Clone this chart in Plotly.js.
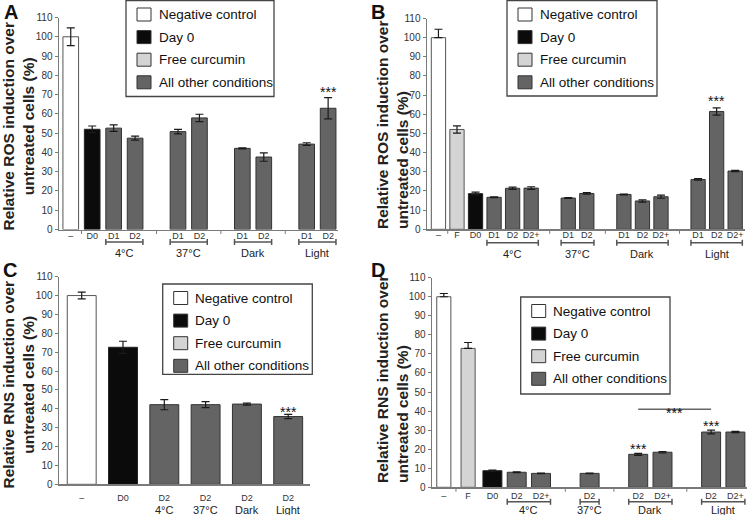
<!DOCTYPE html>
<html><head><meta charset="utf-8">
<script src="https://cdn.plot.ly/plotly-3.0.1.min.js"></script>
<style>html,body{margin:0;padding:0;background:#fff}#chart{width:748px;height:515px}</style>
</head><body><div id="chart"></div>
<script>
// ---------- DATA ----------
const legendKinds  = ['neg', 'day0', 'free', 'other'];
const legendLabels = ['Negative control', 'Day 0', 'Free curcumin', 'All other conditions'];

// Panel A – ROS
const labelsA = ['–', 'D0', 'D1', 'D2', 'D1', 'D2', 'D1', 'D2', 'D1', 'D2'];
const groupA  = ['', '', '4°C', '4°C', '37°C', '37°C', 'Dark', 'Dark', 'Light', 'Light'];
const kindA   = ['neg', 'day0', 'other', 'other', 'other', 'other', 'other', 'other', 'other', 'other'];
const rosA    = [100, 52.0, 52.6, 47.4, 50.8, 57.9, 42.1, 37.6, 44.3, 62.9];
const errA    = [4.6, 1.7, 1.7, 1.0, 1.2, 1.9, 0.3, 2.2, 0.7, 5.5];
const starsA  = ['', '', '', '', '', '', '', '', '', '***'];

// Panel B – ROS
const labelsB = ['–', 'F', 'D0', 'D1', 'D2', 'D2+', 'D1', 'D2', 'D1', 'D2', 'D2+', 'D1', 'D2', 'D2+'];
const groupB  = ['', '', '', '4°C', '4°C', '4°C', '37°C', '37°C', 'Dark', 'Dark', 'Dark', 'Light', 'Light', 'Light'];
const kindB   = ['neg', 'free', 'day0', 'other', 'other', 'other', 'other', 'other', 'other', 'other', 'other', 'other', 'other', 'other'];
const rosB    = [100, 52.1, 18.6, 16.7, 21.4, 21.5, 16.3, 18.7, 18.2, 14.8, 17.0, 26.0, 61.5, 30.4];
const errB    = [4.4, 1.9, 0.8, 0.2, 0.6, 0.7, 0.2, 0.4, 0.2, 0.6, 0.8, 0.4, 1.9, 0.3];
const errLowB = [0, 1.9, 0.8, 0.2, 0.6, 0.7, 0.2, 0.4, 0.2, 0.6, 0.8, 0.4, 1.9, 0.3];
const starsB  = ['', '', '', '', '', '', '', '', '', '', '', '', '***', ''];

// Panel C – RNS
const labelsC = ['–', 'D0', 'D2', 'D2', 'D2', 'D2'];
const groupC  = ['', '', '4°C', '37°C', 'Dark', 'Light'];
const kindC   = ['neg', 'day0', 'other', 'other', 'other', 'other'];
const rnsC    = [100, 72.6, 42.2, 42.2, 42.5, 35.9];
const errC    = [1.8, 3.2, 2.7, 1.6, 0.5, 1.1];
const starsC  = ['', '', '', '', '', '***'];

// Panel D – RNS
const labelsD = ['–', 'F', 'D0', 'D2', 'D2+', 'D2', 'D2', 'D2+', 'D2', 'D2+'];
const groupD  = ['', '', '', '4°C', '4°C', '37°C', 'Dark', 'Dark', 'Light', 'Light'];
const kindD   = ['neg', 'free', 'day0', 'other', 'other', 'other', 'other', 'other', 'other', 'other'];
const rnsD    = [100, 72.9, 8.7, 7.9, 7.3, 7.3, 17.3, 18.4, 29.0, 29.0];
const errD    = [1.7, 3.1, 0.3, 0.2, 0.1, 0.1, 0.5, 0.4, 1.0, 0.3];
const errLowD = [0, 0, 0.3, 0.2, 0.1, 0.1, 0.5, 0.4, 1.0, 0.3];
const starsD  = ['', '', '', '', '', '', '***', '', '***', ''];
const sigPairD = [6, 8];   // Dark D2 vs Light D2
const sigTextD = '***';

// ---------- STYLE / LAYOUT ----------
const W = 748, H = 515;
const FONT = 'Liberation Sans, Arial, Helvetica, sans-serif';
const AX = '#7a7a7a';
const fillColors = {neg: '#ffffff', day0: '#0b0b0b', free: '#d4d4d4', other: '#646464'};
const edgeColors = {neg: '#555555', day0: '#222222', free: '#555555', other: '#333333'};

const panels = [
  {letter: 'A', labels: labelsA, groups: groupA, kinds: kindA, vals: rosA, up: errA, down: errA, stars: starsA,
   slots: [0, 1, 2, 3, 5, 6, 8, 9, 11, 12], width: 0.73, xpx: [59, 338], ypx: [17.5, 229.5], xr: [-0.548, 12.46],
   tickLen: 0, standoff: -3, brackets: true, minorTicks: true, bracketDy: 12.5, groupDy: 23.8, starShift: -4,
   legend: [126, 0.5, 148, 96], titleXY: [17.5, 127], titleAlign: 'center', letterXY: [11, 11.5],
   title: 'Relative ROS induction over<br>untreated cells (%)'},
  {letter: 'B', labels: labelsB, groups: groupB, kinds: kindB, vals: rosB, up: errB, down: errLowB, stars: starsB,
   slots: [0, 1, 2, 3, 4, 5, 7, 8, 10, 11, 12, 14, 15, 16], width: 0.77, xpx: [427, 745], ypx: [18.5, 229.3], xr: [-0.617, 16.53],
   tickLen: 0, standoff: -4, brackets: true, minorTicks: true, bracketDy: 13.5, groupDy: 24.5, starShift: -3,
   legend: [507, 0.5, 150, 95.5], titleXY: [392, 125], titleAlign: 'left', letterXY: [378, 11.5],
   title: 'Relative ROS induction over<br>untreated cells (%)'},
  {letter: 'C', labels: labelsC, groups: groupC, kinds: kindC, vals: rnsC, up: errC, down: errC, stars: starsC,
   slots: [0, 1, 2, 3, 4, 5], width: 0.7, xpx: [59, 310], ypx: [276.7, 484.3], xr: [-0.55, 5.528],
   tickLen: 4, standoff: 0, brackets: false, minorTicks: false, bracketDy: 0, groupDy: 25.7, starShift: -8,
   legend: [162.7, 284, 149.6, 90.3], titleXY: [17.5, 385], titleAlign: 'center', letterXY: [10, 270],
   title: 'Relative RNS induction over<br>untreated cells (%)'},
  {letter: 'D', labels: labelsD, groups: groupD, kinds: kindD, vals: rnsD, up: errD, down: errLowD, stars: starsD,
   slots: [0, 1, 2, 3, 4, 6, 8, 9, 11, 12], width: [0.58, 0.58, 0.78, 0.78, 0.78, 0.78, 0.78, 0.78, 0.78, 0.78],
   xpx: [432, 747], ypx: [277.7, 487.3], xr: [-0.486, 12.477],
   tickLen: 0, standoff: -1, brackets: true, minorTicks: true, bracketDy: 14.5, groupDy: 23, starShift: -6,
   legend: [520.7, 297, 149.3, 97], titleXY: [392, 379], titleAlign: 'left', letterXY: [378, 270],
   sig: {pair: sigPairD, text: sigTextD, level: 41},
   title: 'Relative RNS induction over<br>untreated cells (%)'}
];

const data = [], shapes = [], annotations = [];
const layout = {
  width: W, height: H, margin: {l: 0, r: 0, t: 0, b: 0},
  paper_bgcolor: '#ffffff', plot_bgcolor: 'rgba(0,0,0,0)',
  showlegend: false, font: {family: FONT, color: '#222'}
};
const py = v => 1 - v / H;
const pxx = v => v / W;

panels.forEach((p, k) => {
  const n = k === 0 ? '' : String(k + 1);
  const xa = 'x' + n, ya = 'y' + n;
  const xs = p.slots;
  const widths = Array.isArray(p.width) ? p.width : xs.map(() => p.width);

  data.push({
    type: 'bar', x: xs, y: p.vals, width: widths, xaxis: xa, yaxis: ya,
    marker: {color: p.kinds.map(c => fillColors[c]), line: {color: p.kinds.map(c => edgeColors[c]), width: 1}},
    error_y: {type: 'data', symmetric: false, array: p.up, arrayminus: p.down, visible: true,
              color: '#1a1a1a', thickness: 1.2, width: 4},
    showlegend: false, hoverinfo: 'skip'
  });

  layout['xaxis' + n] = {
    domain: [pxx(p.xpx[0]), pxx(p.xpx[1])], anchor: ya, range: p.xr,
    tickmode: 'array', tickvals: xs, ticktext: p.labels, tickangle: 0,
    ticks: p.tickLen ? 'outside' : '', ticklen: p.tickLen, tickcolor: 'rgba(0,0,0,0)',
    ticklabelstandoff: p.standoff,
    showline: true, linecolor: AX, linewidth: 1.5, showgrid: false, zeroline: false,
    tickfont: {family: FONT, size: 9, color: '#333'}, fixedrange: true
  };
  layout['yaxis' + n] = {
    domain: [py(p.ypx[1]), py(p.ypx[0])], anchor: xa, range: [0, 110],
    tickmode: 'linear', tick0: 0, dtick: 10, ticks: 'outside', ticklen: 3, tickcolor: AX, tickwidth: 1,
    showline: true, linecolor: AX, linewidth: 1.5, showgrid: false, zeroline: false,
    tickfont: {family: FONT, size: 10, color: '#333'}, fixedrange: true
  };

  // significance stars above bars
  p.stars.forEach((s, i) => {
    if (!s) return;
    annotations.push({xref: xa, yref: ya, x: xs[i], y: p.vals[i] + p.up[i], text: s, showarrow: false,
      xanchor: 'center', yanchor: 'bottom', yshift: p.starShift, font: {family: FONT, size: 14, color: '#111'}});
  });

  // group labels + brackets
  const axisPx = p.ypx[1];
  const seen = [];
  p.groups.forEach(g => { if (g && seen.indexOf(g) < 0) seen.push(g); });
  seen.forEach(g => {
    const idx = p.groups.map((v, i) => v === g ? i : -1).filter(i => i >= 0);
    const a = idx[0], b = idx[idx.length - 1];
    if (p.brackets) {
      const x0 = xs[a] - widths[a] / 2, x1 = xs[b] + widths[b] / 2;
      const yb = py(axisPx + p.bracketDy);
      const ln = {color: '#555', width: 1.5};
      shapes.push({type: 'line', xref: xa, yref: 'paper', x0: x0, x1: x1, y0: yb, y1: yb, line: ln});
      [x0, x1].forEach(xe => shapes.push({type: 'line', xref: xa, yref: 'paper', x0: xe, x1: xe,
        y0: py(axisPx + p.bracketDy - 3), y1: py(axisPx + p.bracketDy + 3), line: ln}));
    }
    annotations.push({xref: xa, yref: 'paper', x: (xs[a] + xs[b]) / 2, y: py(axisPx + p.groupDy), text: g,
      showarrow: false, xanchor: 'center', yanchor: 'middle', font: {family: FONT, size: 11, color: '#222'}});
  });

  // small category separator ticks on x axis
  if (p.minorTicks) {
    for (let i = 0; i < xs.length - 1; i++) {
      if (i === 0 || xs[i + 1] - xs[i] > 1) {
        const xm = (xs[i] + xs[i + 1]) / 2;
        shapes.push({type: 'line', xref: xa, yref: 'paper', x0: xm, x1: xm,
          y0: py(axisPx + 0.8), y1: py(axisPx + 4.5), line: {color: AX, width: 1}});
      }
    }
  }

  // comparison line between two bars
  if (p.sig) {
    const [i0, i1] = p.sig.pair;
    shapes.push({type: 'line', xref: xa, yref: ya, x0: xs[i0], x1: xs[i1], y0: p.sig.level, y1: p.sig.level,
      line: {color: '#666', width: 1.5}});
    annotations.push({xref: xa, yref: ya, x: (xs[i0] + xs[i1]) / 2, y: p.sig.level, text: p.sig.text,
      showarrow: false, xanchor: 'center', yanchor: 'middle', yshift: -4, font: {family: FONT, size: 14, color: '#111'}});
  }

  // y-axis title
  annotations.push({xref: 'paper', yref: 'paper', x: pxx(p.titleXY[0]), y: py(p.titleXY[1]),
    text: '<b>' + p.title.replace('<br>', '</b><br><b>') + '</b>', textangle: -90, showarrow: false,
    align: p.titleAlign, xanchor: 'center', yanchor: 'middle', font: {family: FONT, size: 15.5, color: '#222'}});

  // panel letter
  annotations.push({xref: 'paper', yref: 'paper', x: pxx(p.letterXY[0]), y: py(p.letterXY[1]),
    text: '<b>' + p.letter + '</b>', showarrow: false, xanchor: 'center', yanchor: 'middle',
    font: {family: FONT, size: 20, color: '#111'}});

  // legend box
  const [lx, ly, lw, lh] = p.legend;
  shapes.push({type: 'rect', xref: 'paper', yref: 'paper', x0: pxx(lx), x1: pxx(lx + lw), y0: py(ly), y1: py(ly + lh),
    line: {color: '#444', width: 1.3}, fillcolor: '#ffffff', layer: 'above'});
  legendKinds.forEach((kd, j) => {
    const cy = ly + 14 + j * 22.6;
    shapes.push({type: 'rect', xref: 'paper', yref: 'paper', x0: pxx(lx + 11), x1: pxx(lx + 25),
      y0: py(cy - 6.5), y1: py(cy + 6.5), line: {color: '#333', width: 1}, fillcolor: fillColors[kd], layer: 'above'});
    annotations.push({xref: 'paper', yref: 'paper', x: pxx(lx + 30.5), y: py(cy), text: legendLabels[j],
      showarrow: false, xanchor: 'left', yanchor: 'middle', font: {family: FONT, size: 13.5, color: '#111'}});
  });
});

layout.shapes = shapes;
layout.annotations = annotations;
Plotly.newPlot('chart', data, layout, {displayModeBar: false, staticPlot: true});
</script>
</body></html>
